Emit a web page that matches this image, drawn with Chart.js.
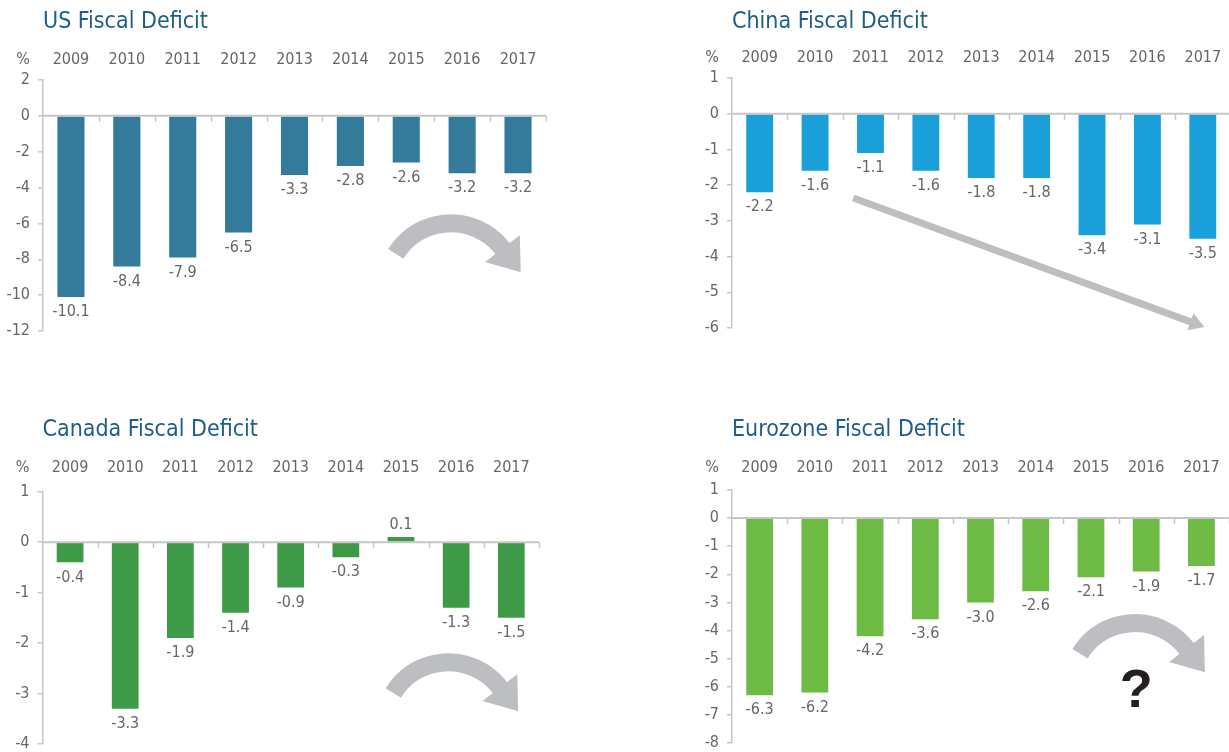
<!DOCTYPE html>
<html><head><meta charset="utf-8">
<script src="https://cdn.jsdelivr.net/npm/chart.js@4.4.1/dist/chart.umd.min.js"></script>
<style>
html,body{margin:0;padding:0;background:#fff;overflow:hidden;width:1229px;height:752px;position:relative;}
.box{position:absolute;}
</style></head><body>
<div class="box" style="left:0;top:0;width:547px;height:343px"><canvas id="us"></canvas></div>
<div class="box" style="left:689px;top:0;width:543px;height:340px"><canvas id="china"></canvas></div>
<div class="box" style="left:0;top:408px;width:544px;height:348px"><canvas id="canada"></canvas></div>
<div class="box" style="left:689px;top:408px;width:543px;height:347px"><canvas id="euro"></canvas></div>
<script>
const years = ['2009','2010','2011','2012','2013','2014','2015','2016','2017'];
const usDeficit = [-10.1, -8.4, -7.9, -6.5, -3.3, -2.8, -2.6, -3.2, -3.2];
const chinaDeficit = [-2.2, -1.6, -1.1, -1.6, -1.8, -1.8, -3.4, -3.1, -3.5];
const canadaDeficit = [-0.4, -3.3, -1.9, -1.4, -0.9, -0.3, 0.1, -1.3, -1.5];
const euroDeficit = [-6.3, -6.2, -4.2, -3.6, -3.0, -2.6, -2.1, -1.9, -1.7];
const titles = ['US Fiscal Deficit','China Fiscal Deficit','Canada Fiscal Deficit','Eurozone Fiscal Deficit'];
const unitLabel = '%';

const FONT = '"DejaVu Sans Condensed", "Liberation Sans", sans-serif';
const FS = 16;
const TXT = '#666666';
const AXIS = '#c6c6c6';
const ARROW = '#bdbec1';
Chart.defaults.font.family = FONT;

const zeroAxis = {
  id: 'zeroAxis',
  afterDatasetsDraw(chart) {
    const {ctx, chartArea: {left, right}, scales: {x, y}} = chart;
    const y0 = y.getPixelForValue(0);
    ctx.save();
    ctx.strokeStyle = AXIS; ctx.lineWidth = 2;
    ctx.beginPath(); ctx.moveTo(left, y0); ctx.lineTo(right, y0); ctx.stroke();
    ctx.lineWidth = 1.5;
    ctx.beginPath();
    const n = chart.data.labels.length;
    for (let k = 1; k <= n; k++) {
      const px = Math.round(x.getPixelForValue(k - 0.5)) + 0.5;
      ctx.moveTo(px, y0); ctx.lineTo(px, y0 + 6);
    }
    ctx.stroke();
    ctx.restore();
  }
};

const valueLabels = {
  id: 'valueLabels',
  afterDatasetsDraw(chart) {
    const {ctx} = chart;
    const meta = chart.getDatasetMeta(0);
    const data = chart.data.datasets[0].data;
    ctx.save();
    ctx.font = FS + 'px ' + FONT;
    ctx.fillStyle = TXT;
    ctx.textAlign = 'center';
    ctx.textBaseline = 'middle';
    meta.data.forEach((bar, i) => {
      const v = data[i];
      const yy = v < 0 ? bar.y + 15 : bar.y - 12;
      ctx.fillText(v.toFixed(1), bar.x, yy);
    });
    ctx.restore();
  }
};

const unitMark = {
  id: 'unitMark',
  afterDraw(chart, args, opts) {
    const {ctx, chartArea, scales: {y}} = chart;
    ctx.save();
    ctx.font = FS + 'px ' + FONT;
    ctx.fillStyle = TXT;
    ctx.textAlign = 'right';
    ctx.textBaseline = 'middle';
    ctx.fillText(unitLabel, y.right - 13, chartArea.top - opts.pad - FS * 0.6);
    ctx.restore();
  }
};

const decorations = {
  id: 'decorations',
  afterDraw(chart, args, opts) {
    const {ctx, scales: {x, y}} = chart;
    (opts.items || []).forEach(a => {
      ctx.save();
      if (a.type === 'curve') {
        const cx = x.getPixelForValue(a.cx), cy = y.getPixelForValue(a.cy);
        const a0 = a.a0 * Math.PI / 180, a1 = a.a1 * Math.PI / 180;
        ctx.strokeStyle = ARROW; ctx.fillStyle = ARROW;
        ctx.lineWidth = a.w; ctx.lineCap = 'butt';
        ctx.beginPath(); ctx.arc(cx, cy, a.r, a0, a1 + 0.01); ctx.stroke();
        const ex = cx + a.r * Math.cos(a1), ey = cy + a.r * Math.sin(a1);
        const tx = -Math.sin(a1), ty = Math.cos(a1);
        const nx = Math.cos(a1), ny = Math.sin(a1);
        ctx.beginPath();
        ctx.moveTo(ex + nx * a.hw, ey + ny * a.hw);
        ctx.lineTo(ex + tx * a.hl, ey + ty * a.hl);
        ctx.lineTo(ex - nx * a.hw, ey - ny * a.hw);
        ctx.closePath(); ctx.fill();
      } else if (a.type === 'line') {
        const x0 = x.getPixelForValue(a.x0), y0 = y.getPixelForValue(a.y0);
        const x1 = x.getPixelForValue(a.x1), y1 = y.getPixelForValue(a.y1);
        const L = Math.hypot(x1 - x0, y1 - y0);
        const dx = (x1 - x0) / L, dy = (y1 - y0) / L;
        const bx = x1 - dx * a.hl, by = y1 - dy * a.hl;
        ctx.strokeStyle = ARROW; ctx.fillStyle = ARROW;
        ctx.lineWidth = a.w; ctx.lineCap = 'butt';
        ctx.beginPath(); ctx.moveTo(x0, y0); ctx.lineTo(bx + dx, by + dy); ctx.stroke();
        ctx.beginPath();
        ctx.moveTo(bx - dy * a.hw, by + dx * a.hw);
        ctx.lineTo(x1, y1);
        ctx.lineTo(bx + dy * a.hw, by - dx * a.hw);
        ctx.closePath(); ctx.fill();
      } else if (a.type === 'text') {
        ctx.font = 'bold 54px "Liberation Sans", Arial, sans-serif';
        ctx.fillStyle = '#231f20';
        ctx.textAlign = 'center'; ctx.textBaseline = 'middle';
        ctx.fillText(a.text, x.getPixelForValue(a.x), y.getPixelForValue(a.y));
      }
      ctx.restore();
    });
  }
};

function makeChart(id, title, values, color, min, max, step, axisW, xAxisH, labelPad, items) {
  return new Chart(document.getElementById(id), {
    type: 'bar',
    data: {
      labels: years,
      datasets: [{
        data: values,
        backgroundColor: color,
        borderWidth: 0,
        barPercentage: 0.485,
        categoryPercentage: 1.0
      }]
    },
    options: {
      responsive: true,
      maintainAspectRatio: false,
      animation: false,
      layout: {padding: {left: 0, right: 0, top: 0, bottom: 12}},
      plugins: {
        legend: {display: false},
        tooltip: {enabled: false},
        title: {
          display: true, text: title, align: 'start', fullSize: false,
          color: '#1d5e86',
          font: {family: FONT, size: 23, weight: 'normal', lineHeight: 1.2},
          padding: {top: 8, bottom: 0}
        },
        unitMark: {pad: labelPad},
        decorations: {items: items}
      },
      scales: {
        x: {
          position: 'top',
          grid: {display: false, drawTicks: false},
          border: {display: false},
          ticks: {color: TXT, font: {size: FS, lineHeight: 1.2}, padding: labelPad, maxRotation: 0, autoSkip: false},
          afterFit(s) { s.height = xAxisH; }
        },
        y: {
          min: min, max: max,
          grid: {display: true, drawOnChartArea: false, drawTicks: true, tickLength: 5, color: AXIS, lineWidth: 1.5},
          border: {display: true, color: AXIS, width: 1.5},
          ticks: {stepSize: step, color: TXT, font: {size: FS}, padding: 8},
          afterFit(s) { s.width = axisW; s.paddingTop = 0; s.paddingBottom = 0; }
        }
      }
    },
    plugins: [zeroAxis, valueLabels, unitMark, decorations]
  });
}

const bigArrow = {type: 'curve', r: 65, a0: -148, a1: -37.7, w: 18, hl: 30, hw: 22};

makeChart('us', titles[0], usDeficit, '#347a9b', -12, 2, 2, 43, 44.4, 10.6,
  [Object.assign({cx: 6.8, cy: -9.62}, bigArrow)]);
makeChart('china', titles[1], chinaDeficit, '#1a9fd8', -6, 1, 1, 43, 42.4, 10.8,
  [{type: 'line', x0: 1.69, y0: -2.36, x1: 8.03, y1: -5.97, w: 7, hl: 15, hw: 9}]);
makeChart('canada', titles[2], canadaDeficit, '#3e9a47', -4, 1, 1, 42.5, 48.1, 14.1,
  [Object.assign({cx: 6.86, cy: -3.67}, bigArrow)]);
makeChart('euro', titles[3], euroDeficit, '#6dbb45', -8, 1, 1, 43, 46.4, 12.1,
  [Object.assign({cx: 6.8, cy: -6.05}, bigArrow), {type: 'text', text: '?', x: 6.82, y: -6.19}]);
</script>
</body></html>
